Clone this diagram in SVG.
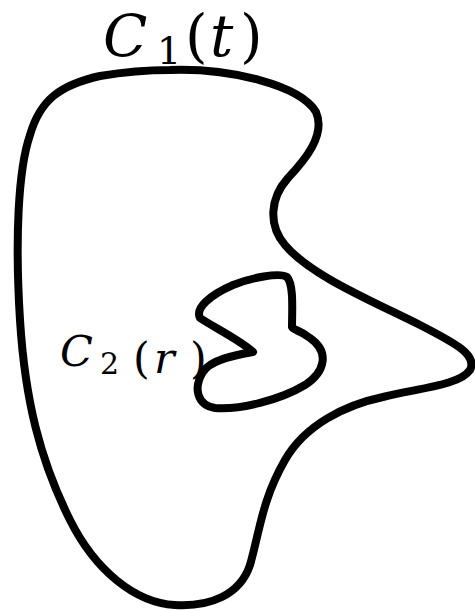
<svg xmlns="http://www.w3.org/2000/svg" width="475" height="610" viewBox="0 0 475 610">
<style>
.curve{fill:none;stroke:#000;stroke-width:8;stroke-linejoin:round;stroke-linecap:round}
text{fill:#000}
.it{font-style:italic}
</style>
<rect width="475" height="610" fill="#fff"/>
<g id="C1">
<path class="curve" d="M 170 70 C 230 68 300 85 316 112 C 326 135 305 160 288 178 C 270 198 268 225 285 245 C 310 275 370 300 420 325 C 455 343 478 355 470 370 C 460 385 420 388 383 397 C 345 405 305 425 285 460 C 262 500 260 530 250 565 C 240 595 210 607 175 605 C 135 603 95 570 70 520 C 40 460 25 400 20 320 C 15 240 18 170 30 135 C 40 100 60 85 100 76 C 130 71 150 70 170 70 Z"/>
<text font-family="DejaVu Serif, serif" font-size="58"><tspan class="it" x="103" y="56">C</tspan><tspan x="157" y="64" font-size="38">1</tspan><tspan x="185" y="56">(</tspan><tspan class="it" x="210" y="56">t</tspan><tspan x="240" y="56">)</tspan></text>
</g>
<g id="C2">
<path class="curve" d="M 287 277 C 280 272 250 278 233 285 C 210 295 195 308 200 318 C 215 328 240 340 253 352 C 235 355 210 360 203 372 C 193 388 197 405 215 408 C 240 410 280 400 305 385 C 325 372 330 352 310 338 C 300 330 293 330 292 327 C 292 310 294 285 287 277 Z"/>
<text font-family="DejaVu Serif, serif" font-size="43"><tspan class="it" x="60" y="366">C</tspan><tspan x="100" y="374" font-size="30">2</tspan><tspan x="133" y="373">(</tspan><tspan class="it" x="154" y="373">r</tspan><tspan x="190" y="373">)</tspan></text>
</g>
</svg>
